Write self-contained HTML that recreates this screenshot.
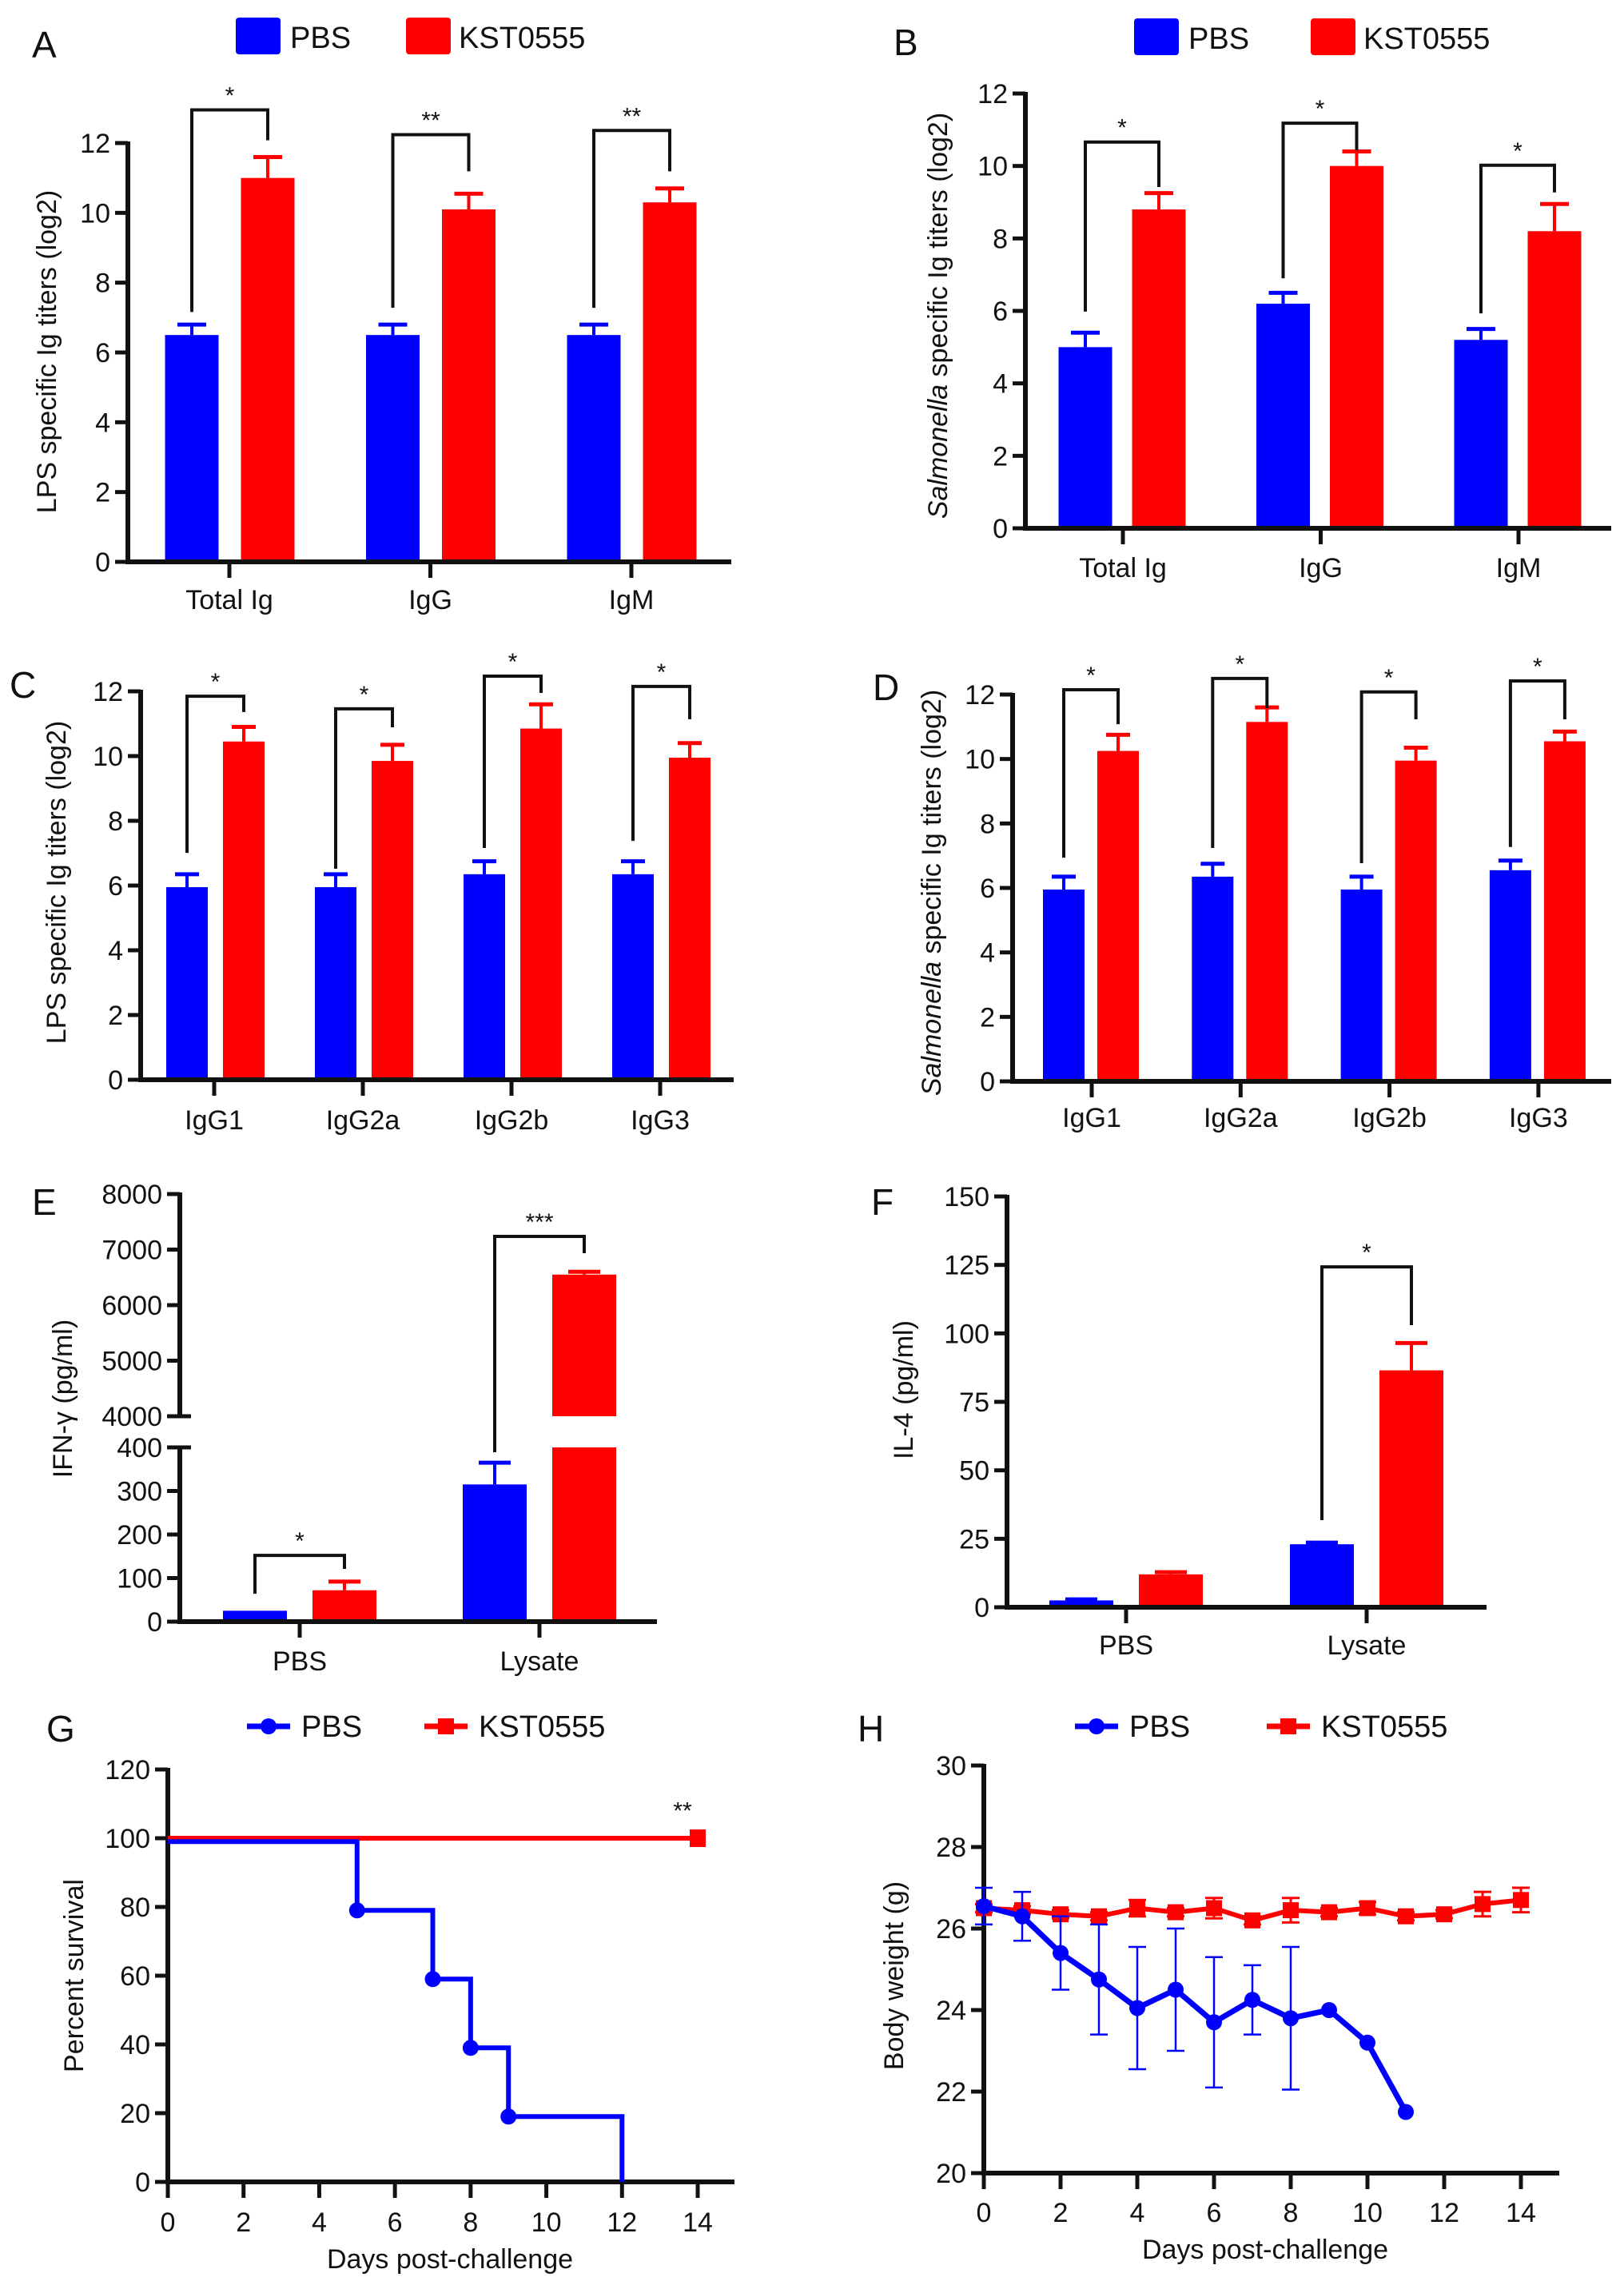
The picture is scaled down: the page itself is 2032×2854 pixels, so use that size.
<!DOCTYPE html>
<html><head><meta charset="utf-8"><style>
html,body{margin:0;padding:0;background:#fff;}
svg{display:block;font-family:"Liberation Sans",Arial,sans-serif;}
</style></head><body>
<svg id="fig" width="2032" height="2854" viewBox="0 0 2032 2854" xmlns="http://www.w3.org/2000/svg"></svg>
<script>
// ---------- DATA ----------
const catsAB = ['Total Ig','IgG','IgM'];
const catsCD = ['IgG1','IgG2a','IgG2b','IgG3'];
const catsEF = ['PBS','Lysate'];
const ticksAD = [0,2,4,6,8,10,12];
const aPBS = [6.5,6.5,6.5];       const aPBSerr = [0.3,0.3,0.3];
const aKST = [11.0,10.1,10.3];    const aKSTerr = [0.6,0.45,0.4];
const aStars = ['*','**','**'];
const aBr = [[12.95,7.16,12.08],[12.24,7.28,11.19],[12.36,7.28,11.19]];
const bPBS = [5.0,6.2,5.2];       const bPBSerr = [0.4,0.3,0.3];
const bKST = [8.8,10.0,8.2];      const bKSTerr = [0.45,0.4,0.75];
const bStars = ['*','*','*'];
const bBr = [[10.66,5.98,9.42],[11.18,6.9,10.43],[10.02,5.93,9.27]];
const cPBS = [5.95,5.95,6.35,6.35];   const cPBSerr = [0.4,0.4,0.4,0.4];
const cKST = [10.45,9.85,10.85,9.95]; const cKSTerr = [0.45,0.5,0.75,0.45];
const cStars = ['*','*','*','*'];
const cBr = [[11.85,7.01,11.36],[11.46,6.52,10.89],[12.47,7.16,11.95],[12.15,7.38,11.14]];
const dPBS = [5.95,6.35,5.95,6.55];   const dPBSerr = [0.4,0.4,0.4,0.3];
const dKST = [10.25,11.15,9.95,10.55];const dKSTerr = [0.5,0.45,0.4,0.3];
const dStars = ['*','*','*','*'];
const dBr = [[12.15,6.94,11.08],[12.5,7.24,11.58],[12.08,6.77,11.23],[12.42,7.27,11.23]];
const eTicksLow = [0,100,200,300,400];
const eTicksHigh = [4000,5000,6000,7000,8000];
const ePBS = [25,315];   const ePBSerr = [0,50];
const eKST = [72,6550];  const eKSTerr = [20,50];
const eStars = ['*','***'];
const eBr = [[152,64,121],[7237,389,6935]];
const fTicks = [0,25,50,75,100,125,150];
const fPBS = [2.5,23];   const fPBSerr = [0.4,0.6];
const fKST = [12,86.5];  const fKSTerr = [0.8,10];
const fStars = [null,'*'];
const fBr = [null,[124.3,31.8,103]];
const gXTicks = [0,2,4,6,8,10,12,14];
const gYTicks = [0,20,40,60,80,100,120];
const gPBSdays = [0,5,7,8,9,12];
const gPBSsurv = [99,79,59,39,19,0];
const gKSTdays = [0,14];
const gKSTsurv = [100,100];
const hYTicks = [20,22,24,26,28,30];
const hPBSdays = [0,1,2,3,4,5,6,7,8,9,10,11];
const hPBS = [26.55,26.3,25.4,24.75,24.05,24.5,23.7,24.25,23.8,24.0,23.2,21.5];
const hPBSerr = [0.45,0.6,0.9,1.35,1.5,1.5,1.6,0.85,1.75,0,0,0];
const hKSTdays = [0,1,2,3,4,5,6,7,8,9,10,11,12,13,14];
const hKST = [26.5,26.45,26.35,26.3,26.5,26.4,26.5,26.2,26.45,26.4,26.5,26.3,26.35,26.6,26.7];
const hKSTerr = [0.1,0.1,0.1,0.1,0.2,0.1,0.25,0.1,0.3,0.1,0.15,0.1,0.1,0.3,0.3];

// ---------- HELPERS ----------
const NS='http://www.w3.org/2000/svg';
const svg=document.getElementById('fig');
const BLUE='#0000ff', RED='#ff0000', INK='#111';
function el(tag,attrs,parent){const e=document.createElementNS(NS,tag);for(const k in attrs)e.setAttribute(k,attrs[k]);(parent||svg).appendChild(e);return e;}
function txt(s,x,y,size,anchor,parent){const t=el('text',{x:x,y:y,'font-size':size,'text-anchor':anchor||'start',fill:INK},parent);t.textContent=s;return t;}
function line(x1,y1,x2,y2,w,col,parent){return el('line',{x1:x1,y1:y1,x2:x2,y2:y2,stroke:col||INK,'stroke-width':w},parent);}

function panelLetter(g,s,x,y){const t=txt(s,x,y,46,'start',g);}
function yTitle(g,x,y,parts){
  const t=el('text',{x:0,y:0,'font-size':34,'text-anchor':'middle',fill:INK,transform:'translate('+x+','+y+') rotate(-90)'},g);
  parts.forEach(p=>{const s=el('tspan',{},t);if(p[1])s.setAttribute('font-style','italic');s.textContent=p[0];});
  
}
function barLegend(g,x1,x2,y){
  const r1=el('rect',{x:x1,y:y,width:56,height:46,rx:4,fill:BLUE},g);
  
  const t1=txt('PBS',x1+68,y+38,38,'start',g);
  
  const r2=el('rect',{x:x2,y:y,width:56,height:46,rx:4,fill:RED},g);
  
  const t2=txt('KST0555',x2+66,y+38,38,'start',g);
  
}

// generic grouped bar chart
function barChart(c){
  const g=el('g',{});  
  const Y=c.scale;
  const X=i=>c.first+i*c.spacing;
  // bars
  const draw=(vals,errs,off,col,ser)=>{
    vals.forEach((v,i)=>{
      const cx=X(i)+off;
      if(c.segments){ // broken axis
        c.segments.forEach(sg=>{
          if(v<=sg[0])return;
          const top=Y(Math.min(v,sg[1])), bot=Y(sg[0]);
          const r=el('rect',{x:cx-c.bw/2,y:top,width:c.bw,height:bot-top,fill:col},g);
          
          
        });
      } else {
        const r=el('rect',{x:cx-c.bw/2,y:Y(v),width:c.bw,height:Y(0)-Y(v),fill:col},g);
        
        
      }
      if(errs[i]>0){
        const eg=el('g',{},g);
        
        line(cx,Y(v),cx,Y(v+errs[i]),4,col,eg);
        line(cx-c.cap/2,Y(v+errs[i]),cx+c.cap/2,Y(v+errs[i]),5,col,eg);
      }
    });
  };
  draw(c.pbs,c.pbsErr,c.offB,BLUE,'pbs');
  draw(c.kst,c.kstErr,c.offR,RED,'kst0555');
  // axes
  const ax=el('g',{},g); 
  if(c.axisSegs){c.axisSegs.forEach(s=>line(c.axisX,Y(s[0])+2,c.axisX,Y(s[1])-2,6,INK,ax));}
  else line(c.axisX,Y(0)+2,c.axisX,Y(c.ticks[c.ticks.length-1])-2,6,INK,ax);
  c.ticks.forEach(t=>{
    line(c.axisX-16,Y(t),c.axisX,Y(t),5,INK,ax);
    const l=txt(String(t),c.axisX-22,Y(t)+12,34,'end',ax);
    
  });
  if(c.breakTicks)c.breakTicks.forEach(t=>line(c.axisX,Y(t),c.axisX+14,Y(t),5,INK,ax));
  const xa=el('g',{},g); 
  line(c.axisX-3,Y(0),c.xEnd,Y(0),6,INK,xa);
  c.cats.forEach((cat,i)=>{
    line(X(i),Y(0),X(i),Y(0)+20,5,INK,xa);
    const l=txt(cat,X(i),c.labelY,34,'middle',xa);
    
  });
  // brackets
  c.br.forEach((b,i)=>{
    if(!b)return;
    const bg=el('g',{},g); 
    const xl=X(i)+c.offB, xr=X(i)+c.offR;
    el('path',{d:'M'+xl+' '+Y(b[1])+' V'+Y(b[0])+' H'+xr+' V'+Y(b[2]),fill:'none',stroke:INK,'stroke-width':4},bg);
    const s=txt(c.stars[i],(xl+xr)/2,Y(b[0])-8,30,'middle',bg);
    
  });
  return g;
}
function linScale(y0,yTop,vmin,vmax){return v=>y0-(v-vmin)*(y0-yTop)/(vmax-vmin);}

// ---------- PANEL A ----------
let g=barChart({name:'panel-a-chart',cats:catsAB,pbs:aPBS,pbsErr:aPBSerr,kst:aKST,kstErr:aKSTerr,stars:aStars,br:aBr,
  ticks:ticksAD,scale:linScale(703,179,0,12),axisX:160,xEnd:915,first:287,spacing:251.5,offB:-47,offR:48,bw:67,cap:36,labelY:762});
panelLetter(g,'A',40,72); barLegend(g,295,508,22); yTitle(g,70,440,[['LPS specific Ig titers (log2)']]);
// ---------- PANEL B ----------
g=barChart({name:'panel-b-chart',cats:catsAB,pbs:bPBS,pbsErr:bPBSerr,kst:bKST,kstErr:bKSTerr,stars:bStars,br:bBr,
  ticks:ticksAD,scale:linScale(661,117,0,12),axisX:1283,xEnd:2016,first:1405,spacing:247.5,offB:-47,offR:45,bw:67,cap:36,labelY:722});
panelLetter(g,'B',1118,69); barLegend(g,1419,1640,23); yTitle(g,1185,395,[['Salmonella',true],[' specific Ig titers (log2)']]);
// ---------- PANEL C ----------
g=barChart({name:'panel-c-chart',cats:catsCD,pbs:cPBS,pbsErr:cPBSerr,kst:cKST,kstErr:cKSTerr,stars:cStars,br:cBr,
  ticks:ticksAD,scale:linScale(1351,865,0,12),axisX:176,xEnd:918,first:268,spacing:186,offB:-34,offR:37,bw:52,cap:30,labelY:1413});
panelLetter(g,'C',12,873); yTitle(g,82,1104,[['LPS specific Ig titers (log2)']]);
// ---------- PANEL D ----------
g=barChart({name:'panel-d-chart',cats:catsCD,pbs:dPBS,pbsErr:dPBSerr,kst:dKST,kstErr:dKSTerr,stars:dStars,br:dBr,
  ticks:ticksAD,scale:linScale(1353,869,0,12),axisX:1267,xEnd:2016,first:1366,spacing:186.3,offB:-35,offR:33,bw:52,cap:30,labelY:1410});
panelLetter(g,'D',1092,876); yTitle(g,1177,1117,[['Salmonella',true],[' specific Ig titers (log2)']]);
// ---------- PANEL E (broken axis) ----------
const eScale=v=>v<=400?2029-v*(2029-1811)/400:1772-(v-4000)*(1772-1494)/4000;
g=barChart({name:'panel-e-chart',cats:catsEF,pbs:ePBS,pbsErr:ePBSerr,kst:eKST,kstErr:eKSTerr,stars:eStars,br:eBr,
  ticks:eTicksLow.concat(eTicksHigh),scale:eScale,segments:[[0,400],[4000,8000]],axisSegs:[[0,400],[4000,8000]],breakTicks:[400,4000],
  axisX:225,xEnd:822,first:375,spacing:300,offB:-56,offR:56,bw:80,cap:40,labelY:2090});
panelLetter(g,'E',40,1520); yTitle(g,90,1750,[['IFN-γ (pg/ml)']]);
// ---------- PANEL F ----------
g=barChart({name:'panel-f-chart',cats:catsEF,pbs:fPBS,pbsErr:fPBSerr,kst:fKST,kstErr:fKSTerr,stars:fStars,br:fBr,
  ticks:fTicks,scale:linScale(2011,1497,0,150),axisX:1260,xEnd:1860,first:1409,spacing:301,offB:-56,offR:56,bw:80,cap:40,labelY:2070});
panelLetter(g,'F',1090,1520); yTitle(g,1142,1739,[['IL-4 (pg/ml)']]);

// ---------- LINE CHART HELPERS ----------
function lineAxes(g,c){
  const ax=el('g',{},g); 
  line(c.axisX,c.Y(c.yt[0])+2,c.axisX,c.Y(c.yt[c.yt.length-1])-2,6,INK,ax);
  c.yt.forEach(t=>{line(c.axisX-16,c.Y(t),c.axisX,c.Y(t),5,INK,ax);
    const l=txt(String(t),c.axisX-22,c.Y(t)+12,34,'end',ax);});
  const xa=el('g',{},g); 
  line(c.axisX-3,c.Y(c.yt[0]),c.xEnd,c.Y(c.yt[0]),6,INK,xa);
  c.xt.forEach(t=>{line(c.X(t),c.Y(c.yt[0]),c.X(t),c.Y(c.yt[0])+20,5,INK,xa);
    const l=txt(String(t),c.X(t),c.tickY,34,'middle',xa);});
  const xt=txt('Days post-challenge',c.titleX,c.titleY,34,'middle',g);
  
}
function lineLegend(g,x1,x2,y){
  const a=el('g',{},g);
  line(x1,y,x1+54,y,7,BLUE,a); el('circle',{cx:x1+27,cy:y,r:10,fill:BLUE},a);
  txt('PBS',x1+68,y+13,38,'start',a);
  const b=el('g',{},g);
  line(x2,y,x2+54,y,7,RED,b); el('rect',{x:x2+17,y:y-10,width:20,height:20,fill:RED},b);
  txt('KST0555',x2+68,y+13,38,'start',b);
}

// ---------- PANEL G ----------
g=el('g',{});  
{
  const X=d=>210+d*(873-210)/14, Y=linScale(2730,2214,0,120);
  lineAxes(g,{axisX:210,xEnd:919,X:X,Y:Y,xt:gXTicks,yt:gYTicks,tickY:2792,titleX:563,titleY:2838});
  const step=(days,vals)=>{let d='M'+X(days[0])+' '+Y(vals[0]);for(let i=1;i<days.length;i++)d+=' H'+X(days[i])+' V'+Y(vals[i]);return d;};
  const rl=el('path',{d:step(gKSTdays,gKSTsurv),fill:'none',stroke:RED,'stroke-width':6},g);
  
  const bl=el('path',{d:step(gPBSdays,gPBSsurv),fill:'none',stroke:BLUE,'stroke-width':6},g);
  
  for(let i=1;i<gPBSdays.length-1;i++){const m=el('circle',{cx:X(gPBSdays[i]),cy:Y(gPBSsurv[i]),r:10,fill:BLUE},g);
    }
  const last=gKSTdays.length-1;
  const sq=el('rect',{x:X(gKSTdays[last])-10,y:Y(gKSTsurv[last])-11,width:20,height:22,fill:RED},g);
  
  const st=txt('**',X(13.6),Y(108)+10,30,'middle',g);
  
  panelLetter(g,'G',58,2179); lineLegend(g,309,531,2160); yTitle(g,104,2472,[['Percent survival']]);
}
// ---------- PANEL H ----------
g=el('g',{});  
{
  const X=d=>1231+d*(1903-1231)/14, Y=linScale(2719,2209,20,30);
  lineAxes(g,{axisX:1231,xEnd:1951,X:X,Y:Y,xt:gXTicks,yt:hYTicks,tickY:2780,titleX:1583,titleY:2826});
  const errs=(days,vals,es,col,cap,w,ser)=>days.forEach((d,i)=>{if(!es[i])return;const e=el('g',{},g);
    
    line(X(d),Y(vals[i]-es[i]),X(d),Y(vals[i]+es[i]),w,col,e);
    line(X(d)-cap,Y(vals[i]-es[i]),X(d)+cap,Y(vals[i]-es[i]),w,col,e);
    line(X(d)-cap,Y(vals[i]+es[i]),X(d)+cap,Y(vals[i]+es[i]),w,col,e);});
  errs(hKSTdays,hKST,hKSTerr,RED,11,3,'kst0555');
  const rl=el('polyline',{points:hKSTdays.map((d,i)=>X(d)+','+Y(hKST[i])).join(' '),fill:'none',stroke:RED,'stroke-width':6,'stroke-linejoin':'round'},g);
  
  hKSTdays.forEach((d,i)=>{const m=el('rect',{x:X(d)-10,y:Y(hKST[i])-10,width:20,height:20,fill:RED},g);
    });
  errs(hPBSdays,hPBS,hPBSerr,BLUE,11,2.5,'pbs');
  const bl=el('polyline',{points:hPBSdays.map((d,i)=>X(d)+','+Y(hPBS[i])).join(' '),fill:'none',stroke:BLUE,'stroke-width':7,'stroke-linejoin':'round'},g);
  
  hPBSdays.forEach((d,i)=>{const m=el('circle',{cx:X(d),cy:Y(hPBS[i]),r:10,fill:BLUE},g);
    });
  panelLetter(g,'H',1073,2179); lineLegend(g,1345,1585,2160); yTitle(g,1130,2472,[['Body weight (g)']]);
}
</script>
</body></html>
